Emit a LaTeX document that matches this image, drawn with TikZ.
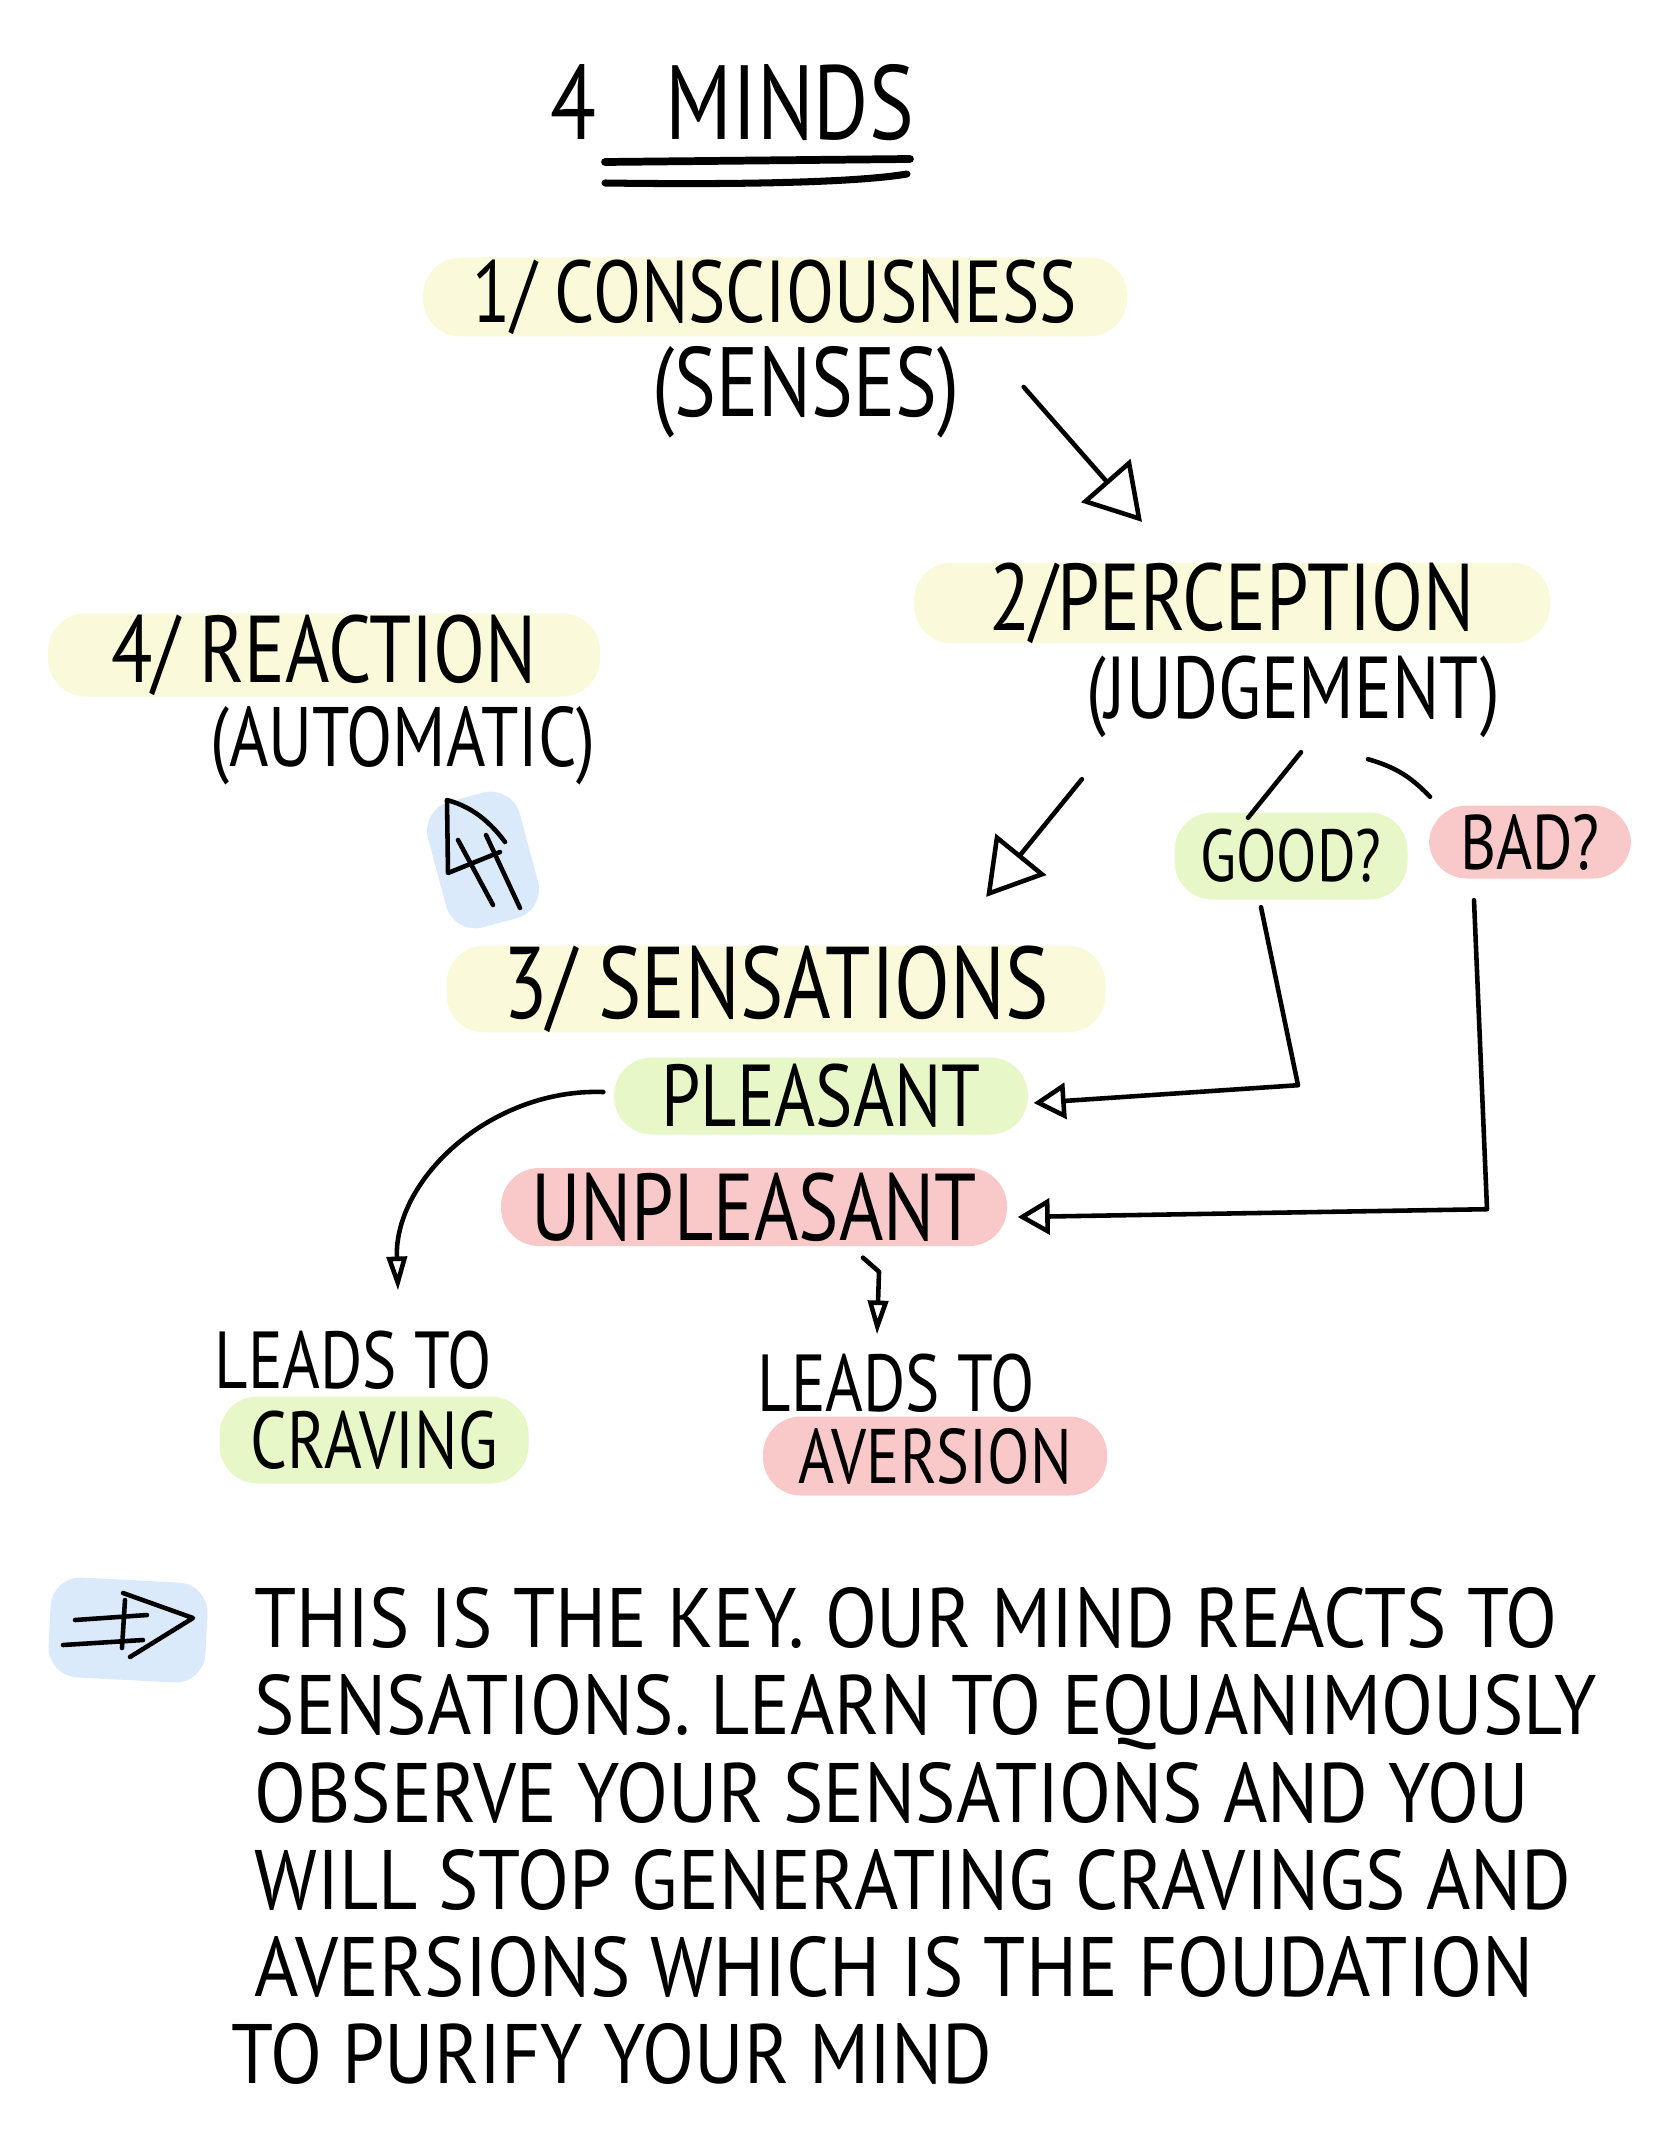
\documentclass[tikz,border=0pt]{standalone}
\usepackage{fontspec}
\setmainfont{PT Sans}[FakeStretch=0.8]
\newfontfamily\notefont{PT Sans}[FakeStretch=0.9]
\usetikzlibrary{arrows.meta}

\definecolor{hlyellow}{RGB}{250,250,218}
\definecolor{hlgreen}{RGB}{231,247,199}
\definecolor{hlred}{RGB}{249,201,201}
\definecolor{hlblue}{RGB}{219,234,250}

\newcommand{\sz}[1]{\fontsize{#1}{#1}\selectfont}

\begin{document}
\begin{tikzpicture}[
    hl/.style={rounded corners=0.38cm, inner sep=0pt},
    lbl/.style={inner sep=1pt},
    pen/.style={line width=1.3pt, line cap=round, line join=round},
    bigarr/.style={pen, -{Triangle[open, length=5.5mm, width=6.5mm]}},
    smallarr/.style={pen, -{Triangle[open, length=3.2mm, width=3.6mm]}},
    thinarr/.style={pen, -{Triangle[open, length=3.4mm, width=2mm]}}
]
\fill[white] (0,0) rectangle (16.68,-21.54);

% title
\node[lbl, font=\sz{30}] (title) at (7.32,-1.03) {4\hspace{7mm}MINDS};
\draw[line width=2.2pt, line cap=round] (6.05,-1.62) -- (9.10,-1.59);
\draw[line width=2pt, line cap=round] (6.05,-1.83) .. controls (7.5,-1.85) and (8.6,-1.82) .. (9.07,-1.74);

% 1/ and 2/
\node[hl, fill=hlyellow, minimum width=7.04cm, minimum height=0.79cm, font=\sz{25}] (cons) at (7.75,-2.97) {1/ CONSCIOUSNESS};
\node[lbl, font=\sz{28}] (senses) at (8.06,-3.92) {(SENSES)};

\node[hl, fill=hlyellow, minimum width=6.36cm, minimum height=0.80cm, font=\sz{27}] (perc) at (12.32,-6.03) {2/PERCEPTION};
\node[lbl, font=\sz{25}] (judge) at (12.93,-6.97) {(JUDGEMENT)};
\node[hl, fill=hlgreen, minimum width=2.33cm, minimum height=0.87cm, font=\sz{21}] (good) at (12.91,-8.56) {GOOD?};
\node[hl, fill=hlred, minimum width=2.02cm, minimum height=0.73cm, font=\sz{22}] (bad) at (15.30,-8.42) {BAD?};

% 4/
\node[hl, fill=hlyellow, minimum width=5.52cm, minimum height=0.83cm, font=\sz{27}] (react) at (3.24,-6.55) {4/ REACTION};
\node[lbl, font=\sz{24}] (auto) at (4.03,-7.46) {(AUTOMATIC)};
\node[hl, fill=hlblue, rotate=15, minimum width=0.95cm, minimum height=1.3cm, rounded corners=0.3cm] (upbox) at (4.83,-8.60) {};

% 3/
\node[hl, fill=hlyellow, minimum width=6.59cm, minimum height=0.82cm, font=\sz{29}] (sens) at (7.76,-9.89) {3/ SENSATIONS};
\node[hl, fill=hlgreen, minimum width=4.14cm, minimum height=0.77cm, font=\sz{25}] (pleas) at (8.21,-10.96) {PLEASANT};
\node[hl, fill=hlred, minimum width=5.06cm, minimum height=0.78cm, font=\sz{27}] (unpleas) at (7.54,-12.07) {UNPLEASANT};

\node[lbl, font=\sz{23}] (leadsl) at (3.53,-13.60) {LEADS TO};
\node[hl, fill=hlgreen, minimum width=3.09cm, minimum height=0.87cm, font=\sz{23}] (craving) at (3.74,-14.40) {CRAVING};
\node[lbl, font=\sz{23}] (leadsr) at (8.96,-13.83) {LEADS TO};
\node[hl, fill=hlred, minimum width=3.44cm, minimum height=0.79cm, font=\sz{22}] (aversion) at (9.35,-14.56) {AVERSION};

% connectors
\draw[bigarr] ([xshift=6mm,yshift=0.5mm]senses.east) -- ([xshift=-9mm,yshift=4mm]perc.north);
\draw[bigarr] ([yshift=-3.7mm]judge.south west) -- ([xshift=-12mm,yshift=4.8mm]sens.north east);
\draw[pen] ([xshift=0.8mm,yshift=-1mm]judge.south) -- ([xshift=-4.3mm,yshift=-0.6mm]good.north);
\draw[pen] ([xshift=7.5mm,yshift=-1.7mm]judge.south) to[bend left=15] ([xshift=-10mm,yshift=0.8mm]bad.north);
\draw[smallarr] ([xshift=-3mm,yshift=-0.7mm]good.south) -- ++(0.37,-1.78) -- ([xshift=0.5mm,yshift=-0.7mm]pleas.east);
\draw[smallarr] ([xshift=-5.6mm,yshift=-2.1mm]bad.south) -- ++(0.13,-3.09) -- ([xshift=1mm,yshift=-1mm]unpleas.east);
\draw[thinarr] ([xshift=-1mm,yshift=0.4mm]pleas.west) to[out=178,in=92] ([xshift=4.5mm,yshift=3.6mm]leadsl.north);
\draw[thinarr] ([xshift=10.9mm,yshift=-1.1mm]unpleas.south) -- ++(0.16,-0.14) -- ([xshift=-1.9mm,yshift=1.5mm]leadsr.north);

% up arrow 3/ -> 4/
\draw[pen] (5.05,-8.42) .. controls (4.85,-8.15) and (4.65,-8.05) .. (4.47,-8.00) -- (4.48,-8.73) -- (5.00,-8.52);
\draw[pen] (4.58,-8.40) -- (4.93,-9.05);
\draw[pen] (4.86,-8.35) -- (5.20,-9.08);

% key note
\node[hl, fill=hlblue, rotate=-3, minimum width=1.57cm, minimum height=1.0cm, rounded corners=0.3cm] (keybox) at (1.28,-16.30) {};
\draw[pen] (0.75,-16.20) -- (1.47,-16.15);
\draw[pen] (0.63,-16.45) -- (1.43,-16.40);
\draw[pen] (1.25,-16.00) -- (1.22,-16.48);
\draw[pen] (1.23,-15.93) -- (1.93,-16.18) -- (1.30,-16.57);

\node[inner sep=0pt, anchor=north west, align=left, font={\notefont\fontsize{24}{24.8}\selectfont}] (note) at (2.54,-15.87)
    {THIS IS THE KEY. OUR MIND REACTS TO\\
     SENSATIONS. LEARN TO EQUANIMOUSLY\\
     OBSERVE YOUR SENSATIONS AND YOU\\
     WILL STOP GENERATING CRAVINGS AND\\
     AVERSIONS WHICH IS THE FOUDATION\\
     \hspace*{-2.3mm}TO PURIFY YOUR MIND};

\end{tikzpicture}
\end{document}
